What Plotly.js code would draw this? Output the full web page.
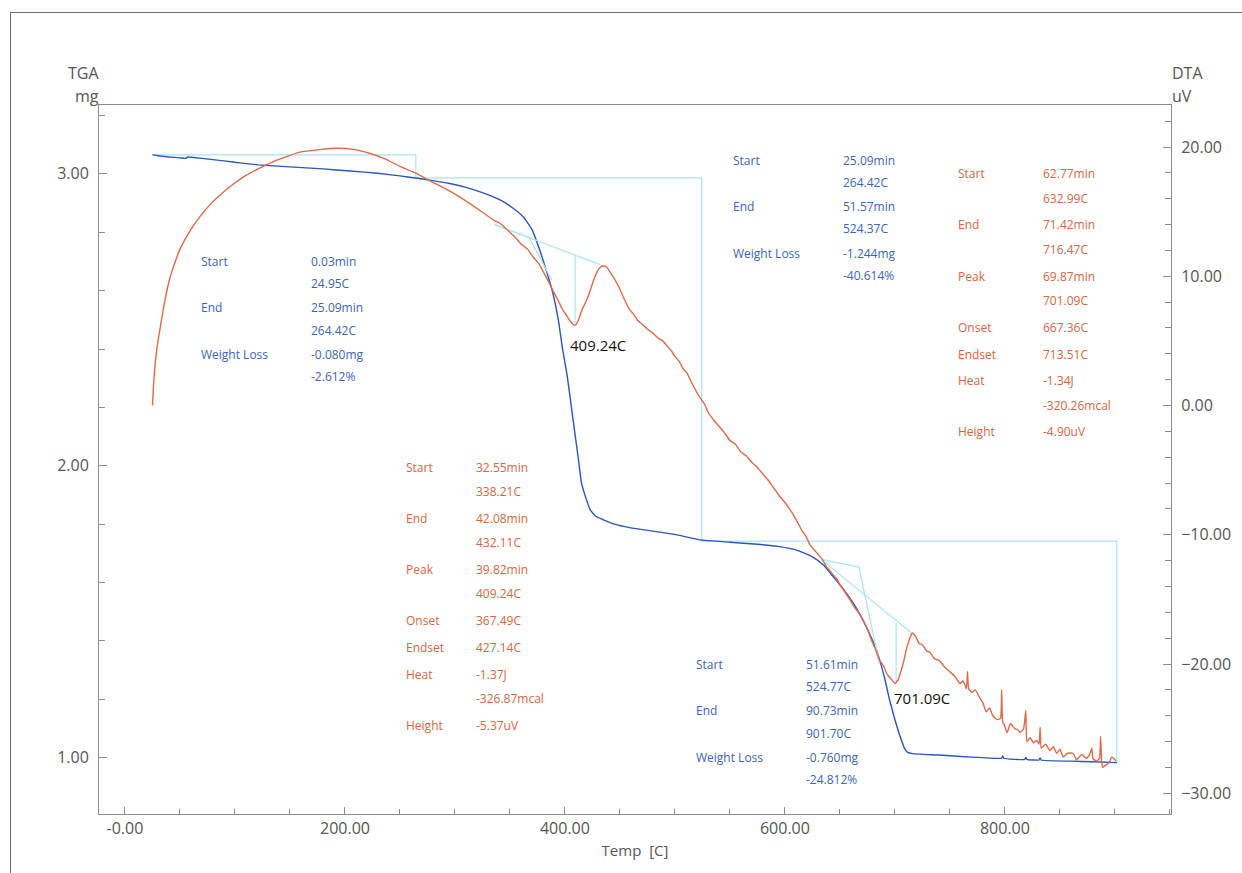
<!DOCTYPE html>
<html>
<head>
<meta charset="utf-8">
<script src="https://cdn.plot.ly/plotly-3.0.1.min.js"></script>
<style>
  html, body { margin: 0; padding: 0; background: #fff; }
  #wrap { position: relative; width: 1242px; height: 873px; overflow: hidden; }
  #chart { width: 1242px; height: 873px; }
  #frame { position: absolute; left: 10px; top: 12px; width: 1400px; height: 1000px;
           border-left: 1px solid #6e6e6e; border-top: 1px solid #6e6e6e; pointer-events: none; }
</style>
</head>
<body>
<div id="wrap">
  <div id="chart"></div>
  <div id="frame"></div>
</div>
<script>
// ---------------- DATA ----------------
// TGA curve: [temperature C, mass mg]
const tgaReadings = [
  [25,3.065],[30,3.062],[40,3.058],[50,3.055],[55,3.053],[57,3.058],[60,3.057],[80,3.049],
  [100,3.040],[121,3.031],[150,3.024],[180,3.017],[205,3.010],[230,3.002],[250,2.993],[264,2.986],
  [280,2.977],[295,2.967],[310,2.954],[325,2.936],[341,2.911],[352,2.885],[362,2.853],[370,2.810],
  [377,2.740],[383,2.670],[389,2.592],[394,2.500],[398,2.397],[402,2.310],[405,2.226],[409,2.113],
  [412,2.030],[415,1.942],[419,1.890],[423,1.849],[428,1.827],[435,1.815],[445,1.800],[459,1.788],
  [480,1.776],[500,1.765],[523,1.746],[550,1.738],[575,1.731],[595,1.723],[610,1.712],[625,1.688],
  [635,1.660],[644,1.620],[653,1.578],[662,1.530],[669,1.485],[675,1.440],[681,1.390],[686,1.336],
  [691,1.267],[695,1.200],[700,1.130],[705,1.070],[709,1.030],[712,1.017],[716,1.014],[740,1.009],
  [760,1.004],[780,1.000],[797,0.998],[798,1.006],[799,0.998],[818,0.994],[819,1.002],[820,0.994],
  [831,0.992],[832,0.999],[833,0.992],[860,0.988],[880,0.986],[902,0.983]
];
// DTA curve: [temperature C, signal uV]
const dtaReadings = [
  [25,0.0],[26,1.6],[27,2.8],[29,4.4],[32,6.0],[36,8.0],[41,9.9],[46,11.2],[50,12.1],[59,13.5],
  [68,14.6],[78,15.6],[88,16.4],[98,17.1],[110,17.8],[121,18.3],[133,18.8],[145,19.2],[159,19.6],
  [177,19.8],[193,19.9],[209,19.8],[223,19.5],
  [236,19.1],[250,18.5],[264,18.0],[277,17.4],[295,16.6],[314,15.6],[336,14.3],[341,14.1],[345,13.8],
  [350,13.4],[355,13.0],[360,12.5],[366,12.1],[371,11.5],[376,11.0],[380,10.4],[385,9.6],[389,8.9],
  [394,8.1],[398,7.4],[402,6.9],[405,6.5],[409,6.2],[411,6.4],[413,6.8],[416,7.5],[420,8.2],[423,8.9],
  [426,9.7],[429,10.3],[432,10.7],[435,10.8],[438,10.7],[442,10.2],[447,9.5],[450,9.0],[453,8.4],
  [459,7.4],[463,7.0],[466,6.6],[470,6.3],[475,5.9],[480,5.6],[485,5.2],[489,5.0],[493,4.6],[497,4.2],
  [500,3.8],[504,3.4],[507,2.9],[511,2.5],[515,1.8],[520,1.0],[523,0.6],[527,0.1],[530,-0.5],[535,-1.1],
  [540,-1.6],[545,-2.1],[550,-2.7],[555,-3.0],[560,-3.6],[565,-3.9],[570,-4.4],[574,-4.7],[577,-5.0],
  [581,-5.4],[585,-5.8],[590,-6.4],[595,-7.0],[600,-7.5],[605,-8.1],[610,-8.8],[615,-9.6],[619,-10.1],
  [623,-10.8],[628,-11.3],[634,-11.9],[638,-12.5],[641,-12.8],[647,-13.4],[651,-14.0],[655,-14.5],
  [659,-15.0],[663,-15.6],[667,-16.0],[671,-16.6],[675,-17.3],[678,-18.0],[682,-18.8],[686,-19.7],
  [690,-20.2],[693,-20.8],[697,-21.2],[700,-21.5],[703,-21.2],[706,-20.4],[708,-19.8],[710,-19.0],
  [712,-18.4],[714,-17.9],[716,-17.6],[719,-17.9],[722,-18.4],[725,-18.5],[729,-19.0],[732,-19.1],
  [736,-19.6],[740,-19.7],[745,-20.2],[750,-20.6],[755,-21.0],[759,-21.5],[762,-21.3],[765,-21.9],
  [766,-20.6],[767,-21.9],[770,-22.2],[773,-22.0],[777,-22.6],[780,-23.0],[783,-23.7],[786,-23.4],
  [789,-24.0],[793,-24.3],[796,-24.2],[797,-22.0],[798,-24.5],[799,-24.6],[802,-25.3],[805,-24.6],
  [809,-25.0],[812,-25.1],[814,-25.3],[817,-25.0],[819,-23.6],[820,-26.0],[823,-25.7],[826,-26.1],
  [829,-25.9],[831,-26.2],[832,-24.9],[833,-26.5],[837,-26.2],[841,-26.7],[844,-26.4],[847,-26.9],
  [850,-26.6],[853,-27.2],[857,-26.9],[862,-26.9],[865,-27.4],[870,-27.0],[874,-27.3],[877,-27.0],
  [879,-26.5],[880,-27.3],[883,-27.5],[886,-27.3],[887,-25.6],[888,-27.6],[889,-28.0],[892,-27.8],
  [895,-27.6],[897,-27.2],[899,-27.3],[901,-27.5]
];
// TGA step-analysis line (cyan), [C, mg]
const tgaStepLine = [[25,3.065],[264.42,3.065],[264.42,2.986],[524.37,2.986],[524.37,1.742],[901.70,1.742],[901.70,0.983]];
// DTA peak-analysis lines (cyan), [C, uV]
const peak1Baseline = [[336,14.0],[432.11,10.9]];
const peak1Tangent  = [[336,14.0],[367.49,13.0],[388,9.7]];
const peak1Drop     = [[409.24,11.65],[409.24,6.2]];
const peak2Baseline = [[633,-11.9],[716.47,-17.7]];
const peak2Tangent  = [[633,-11.9],[667.36,-12.5],[686,-20.0]];
const peak2Drop     = [[701.09,-16.8],[701.09,-21.5]];
// Peak labels
const peakLabels = [[409.24,'409.24C'],[701.09,'701.09C']];
// Axis ticks
const xTickVals = [0,200,400,600,800];
const xTickText = ['-0.00','200.00','400.00','600.00','800.00'];
// Text blocks: [label, [value lines]]
const blockTGA1 = [['Start',['0.03min','24.95C']],['End',['25.09min','264.42C']],['Weight Loss',['-0.080mg','-2.612%']]];
const blockTGA2 = [['Start',['25.09min','264.42C']],['End',['51.57min','524.37C']],['Weight Loss',['-1.244mg','-40.614%']]];
const blockTGA3 = [['Start',['51.61min','524.77C']],['End',['90.73min','901.70C']],['Weight Loss',['-0.760mg','-24.812%']]];
const blockDTA1 = [['Start',['32.55min','338.21C']],['End',['42.08min','432.11C']],['Peak',['39.82min','409.24C']],
                   ['Onset',['367.49C']],['Endset',['427.14C']],['Heat',['-1.37J','-326.87mcal']],['Height',['-5.37uV']]];
const blockDTA2 = [['Start',['62.77min','632.99C']],['End',['71.42min','716.47C']],['Peak',['69.87min','701.09C']],
                   ['Onset',['667.36C']],['Endset',['713.51C']],['Heat',['-1.34J','-320.26mcal']],['Height',['-4.90uV']]];

// ---------------- STYLE / LAYOUT ----------------
const BLUE_TXT = '#3b64b3', RED_TXT = '#d4663f', BLUE_LN = '#2c56b4', RED_LN = '#dc6a4a', CYAN = '#a9e5f0';
const FONT = 'Open Sans, Noto Sans, sans-serif';
const W = 1242, H = 873, ML = 99, MR = 71, MT = 105, MB = 59;
const PW = W - ML - MR, PH = H - MT - MB;
const px2x = p => (p - ML) / PW;
const py2y = p => (H - MB - p) / PH;

const col = (arr, i) => arr.map(r => r[i]);
const traces = [];
function cyanTrace(pts, yaxis) {
  traces.push({x: col(pts,0), y: col(pts,1), yaxis: yaxis, mode: 'lines', type: 'scatter',
               line: {color: CYAN, width: 1.2}, hoverinfo: 'skip'});
}
cyanTrace(tgaStepLine, 'y');
[peak1Baseline, peak1Tangent, peak1Drop, peak2Baseline, peak2Tangent, peak2Drop].forEach(p => cyanTrace(p, 'y2'));
traces.push({x: col(dtaReadings,0), y: col(dtaReadings,1), yaxis: 'y2', type: 'scatter', mode: 'lines',
             line: {color: RED_LN, width: 1.4, shape: 'spline', smoothing: 0.4}});
traces.push({x: col(tgaReadings,0), y: col(tgaReadings,1), yaxis: 'y', type: 'scatter', mode: 'lines',
             line: {color: BLUE_LN, width: 1.4, shape: 'spline', smoothing: 0.4}});

const annotations = [];
function block(entries, color, xl, xv, y0, lineH, gap) {
  let line = 0;
  entries.forEach((e, ei) => {
    const yE = y0 + line * lineH + ei * gap;
    annotations.push({xref:'paper', yref:'paper', x: px2x(xl), y: py2y(yE), xanchor:'left', yanchor:'middle',
                      text: e[0], showarrow:false, font:{family:FONT, size:12, color:color}});
    e[1].forEach((v, vi) => {
      annotations.push({xref:'paper', yref:'paper', x: px2x(xv), y: py2y(yE + vi * lineH), xanchor:'left', yanchor:'middle',
                        text: v, showarrow:false, font:{family:FONT, size:12, color:color}});
    });
    line += e[1].length;
  });
}
block(blockTGA1, BLUE_TXT, 199, 309, 261, 22.5, 1.5);
block(blockTGA2, BLUE_TXT, 731, 841, 160, 22.5, 1.5);
block(blockTGA3, BLUE_TXT, 694, 804, 664, 22.5, 1.5);
block(blockDTA1, RED_TXT, 404, 474, 467, 24, 3);
block(blockDTA2, RED_TXT, 956, 1041, 174, 24, 3);

// peak labels (below the minimum of each peak)
const peakLabelPx = [[568, 345], [892, 698]];
peakLabels.forEach((p, i) => {
  annotations.push({xref:'paper', yref:'paper', x: px2x(peakLabelPx[i][0]), y: py2y(peakLabelPx[i][1]),
                    xanchor:'left', yanchor:'middle', text: p[1], showarrow:false,
                    font:{family:FONT, size:15, color:'#111'}});
});
// axis headers
const hdr = (t, xp, yp, anchor) => annotations.push({xref:'paper', yref:'paper', x: px2x(xp), y: py2y(yp),
  xanchor: anchor, yanchor:'middle', text: t, showarrow:false, font:{family:FONT, size:16, color:'#555'}});
hdr('TGA', 101, 73, 'right'); hdr('mg', 101, 96, 'right');
hdr('DTA', 1170, 73, 'left'); hdr('uV', 1170, 96, 'left');

const axLine = '#8c8c8c';
const layout = {
  width: W, height: H,
  margin: {l: ML, r: MR, t: MT, b: MB, pad: 0},
  paper_bgcolor: '#fff', plot_bgcolor: '#fff',
  showlegend: false, hovermode: false,
  font: {family: FONT, color: '#555', size: 16},
  xaxis: {
    range: [-23.6, 951], showgrid: false, zeroline: false,
    showline: true, linecolor: axLine, linewidth: 1, mirror: true,
    tickmode: 'array', tickvals: xTickVals, ticktext: xTickText,
    ticks: 'inside', ticklen: 7, tickcolor: axLine,
    minor: {tickmode: 'linear', tick0: 0, dtick: 50, ticks: 'inside', ticklen: 5, tickcolor: axLine},
    tickfont: {size: 16, color: '#555'},
    title: {text: 'Temp\u00a0\u00a0[C]', font: {size: 15, color: '#555'}, standoff: 7},
    automargin: false
  },
  yaxis: {
    range: [0.807, 3.236], showgrid: false, zeroline: false,
    showline: true, linecolor: axLine, linewidth: 1,
    tickmode: 'linear', tick0: 0, dtick: 1, tickformat: '.2f',
    ticks: 'inside', ticklen: 8, tickcolor: axLine,
    minor: {tickmode: 'linear', tick0: 0, dtick: 0.2, ticks: 'inside', ticklen: 6, tickcolor: axLine},
    tickfont: {size: 16, color: '#555'}, ticklabelstandoff: 6, automargin: false
  },
  yaxis2: {
    range: [-31.6, 23.25], overlaying: 'y', side: 'right', showgrid: false, zeroline: false,
    showline: true, linecolor: axLine, linewidth: 1,
    tickmode: 'linear', tick0: 0, dtick: 10, tickformat: '.2f',
    ticks: 'inside', ticklen: 8, tickcolor: axLine,
    minor: {tickmode: 'linear', tick0: 0, dtick: 2, ticks: 'inside', ticklen: 6, tickcolor: axLine},
    tickfont: {size: 16, color: '#555'}, ticklabelstandoff: 6, automargin: false
  },
  annotations: annotations
};
Plotly.newPlot('chart', traces, layout, {staticPlot: true, displayModeBar: false});
</script>
</body>
</html>
